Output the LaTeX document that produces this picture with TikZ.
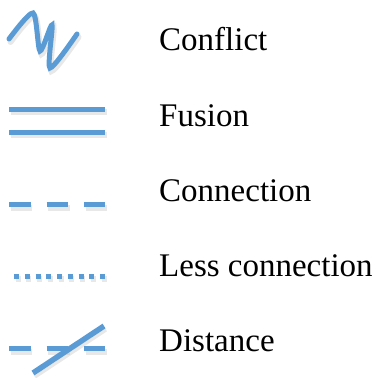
\documentclass[tikz,border=0pt]{standalone}
\usepackage{fontspec}
\setmainfont{Liberation Serif}
\definecolor{legblue}{RGB}{91,155,213}
\tikzset{
  legline/.style={legblue, line width=5pt},
  legshadow/.style={black!30, opacity=0.3, line width=6pt, transform canvas={shift={(1.5pt,-3pt)}}},
  legtext/.style={anchor=base west, inner sep=0pt, font=\fontsize{33}{40}\selectfont},
}

\begin{document}
\begin{tikzpicture}[x=1pt,y=1pt]
\useasboundingbox (0,0) rectangle (382,-377);

\node[legtext] (conflict) at (159,-51) {Conflict};
\node[legtext] (fusion) at (159,-126) {Fusion};
\node[legtext] (connection) at (159,-201.5) {Connection};
\node[legtext] (lessconn) at (159,-276) {Less connection};
\node[legtext] (distance) at (159,-351.5) {Distance};

\coordinate (fusA1) at (9,-109);  \coordinate (fusA2) at (105,-109);
\coordinate (fusB1) at (9,-132);  \coordinate (fusB2) at (105,-132);
\coordinate (con1) at (9,-204.5); \coordinate (con2) at (105,-204.5);
\coordinate (less1) at (14,-276); \coordinate (less2) at (105,-276);
\coordinate (dist1) at (9,-348.5); \coordinate (dist2) at (105,-348.5);
\coordinate (cut1) at (33,-373);  \coordinate (cut2) at (104,-326);

\foreach \sty in {legshadow,legline}{
  \draw[\sty, line cap=round] plot[smooth, tension=0.45] coordinates
    {(9,-39) (33,-13) (40,-51) (52,-25) (50,-68) (77,-34)};
  \draw[\sty] (fusA1) -- (fusA2);
  \draw[\sty] (fusB1) -- (fusB2);
  \draw[\sty, dash pattern=on 21.5pt off 16pt] (con1) -- (con2);
  \draw[\sty, dash pattern=on 5pt off 5.75pt] (less1) -- (less2);
  \draw[\sty, dash pattern=on 21.5pt off 16pt] (dist1) -- (dist2);
  \draw[\sty, line width=5.5pt] (cut1) -- (cut2);
}
\end{tikzpicture}
\end{document}
